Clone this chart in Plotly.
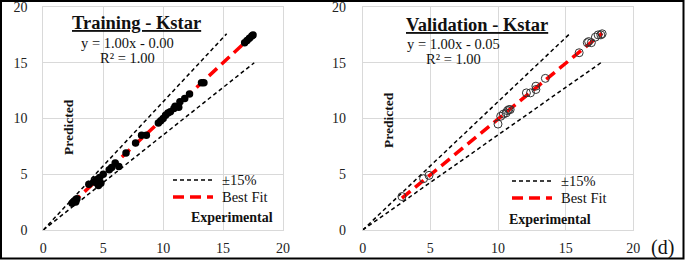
import plotly.graph_objects as go

# ---------------- data ----------------
train_exp = [2.4, 2.5, 2.6, 2.8, 2.7, 3.8, 4.2, 4.4, 4.5, 4.6, 4.8, 4.7, 5.0, 5.5, 5.7, 6.0, 6.3, 6.9,
             7.7, 8.2, 8.6, 9.6, 9.8, 10.0, 10.2, 10.4, 10.6, 10.9, 11.0, 11.3, 11.4, 11.8, 12.2, 13.2,
             13.4, 16.8, 17.0, 17.2, 17.4, 17.5]
train_pred = [2.4, 2.5, 2.6, 2.8, 2.5, 4.1, 4.3, 4.5, 4.2, 4.0, 4.2, 4.7, 5.0, 5.4, 5.6, 6.0, 5.7, 6.9,
              7.8, 8.5, 8.5, 9.6, 9.8, 10.0, 10.3, 10.5, 10.6, 10.9, 11.1, 11.0, 11.5, 11.8, 12.2, 13.2,
              13.2, 16.8, 17.0, 17.2, 17.4, 17.5]

valid_exp = [2.9, 4.5, 4.9, 10.0, 10.2, 10.4, 10.6, 10.7, 10.8, 10.9, 12.1, 12.4, 12.8, 12.8, 13.5,
             16.0, 16.6, 16.7, 16.9, 17.2, 17.4, 17.6, 17.7]
valid_pred = [3.0, 4.6, 4.9, 9.5, 10.2, 10.4, 10.5, 10.7, 10.8, 10.8, 12.3, 12.3, 12.6, 12.9, 13.6,
              15.9, 16.8, 16.9, 16.8, 17.3, 17.5, 17.5, 17.6]

train_fit = (1.00, -0.00)
valid_fit = (1.00, -0.05)

band_upper_x = [0, 15.3]
band_upper_y = [0, 17.6]
band_lower_x = [0, 17.6]
band_lower_y = [0, 15.0]

ticks = [0, 5, 10, 15, 20]
legend_labels = ["±15%", "Best Fit"]

# ---------------- figure ----------------
W, H = 685, 261
FONT = "Liberation Serif"
BAND_DASH = "4px,3px"
FIT_DASH = "11px,6px"

fig = go.Figure()


def px_x(p):
    return p / W


def px_y(p):
    return 1 - p / H


panels = [
    dict(xa="x", ya="y", exp=train_exp, pred=train_pred, fit=train_fit, filled=True),
    dict(xa="x2", ya="y2", exp=valid_exp, pred=valid_pred, fit=valid_fit, filled=False),
]

for p in panels:
    bx = [band_upper_x[0], band_upper_x[1], None, band_lower_x[0], band_lower_x[1]]
    by = [band_upper_y[0], band_upper_y[1], None, band_lower_y[0], band_lower_y[1]]
    fig.add_trace(go.Scatter(x=bx, y=by, mode="lines", name=legend_labels[0], xaxis=p["xa"], yaxis=p["ya"],
                             line=dict(color="black", width=1.5, dash=BAND_DASH), showlegend=False,
                             connectgaps=False))
    m, c = p["fit"]
    x0, x1 = min(p["exp"]), max(p["exp"])
    fig.add_trace(go.Scatter(x=[x0, x1], y=[m * x0 + c, m * x1 + c], mode="lines", name=legend_labels[1],
                             xaxis=p["xa"], yaxis=p["ya"], showlegend=False,
                             line=dict(color="#ff0000", width=3.5, dash=FIT_DASH)))
    if p["filled"]:
        marker = dict(symbol="circle", size=7.5, color="black")
    else:
        marker = dict(symbol="circle-open", size=8, color="#333", line=dict(width=1))
    fig.add_trace(go.Scatter(x=p["exp"], y=p["pred"], mode="markers", marker=marker, showlegend=False,
                             xaxis=p["xa"], yaxis=p["ya"]))

axis_common = dict(range=[-0.001, 20.001], tickvals=ticks, showgrid=True, gridcolor="#d9d9d9", gridwidth=1,
                   showline=True, linecolor="#d9d9d9", linewidth=1, mirror=True, zeroline=False,
                   ticks="", tickfont=dict(family=FONT, size=14, color="#222"), fixedrange=True,
                   automargin=False, ticklabeloverflow="allow")

fig.update_layout(
    width=W, height=H, margin=dict(l=0, r=0, t=0, b=0, autoexpand=False),
    paper_bgcolor="white", plot_bgcolor="white", showlegend=False,
    xaxis=dict(domain=[px_x(43.3), px_x(283)], anchor="y", ticklabelstandoff=5, **axis_common),
    yaxis=dict(domain=[px_y(230), px_y(7)], anchor="x", ticklabelstandoff=12, **axis_common),
    xaxis2=dict(domain=[px_x(362.7), px_x(633.3)], anchor="y2", ticklabelstandoff=5, **axis_common),
    yaxis2=dict(domain=[px_y(230), px_y(7)], anchor="x2", ticklabelstandoff=13, **axis_common),
)

ann = []


def text(x, y, s, size, angle=0, xanchor="center"):
    ann.append(dict(x=px_x(x), y=px_y(y), xref="paper", yref="paper", text=s, showarrow=False,
                    font=dict(family=FONT, size=size, color="#111"), textangle=angle,
                    xanchor=xanchor, yanchor="middle"))


text(136, 23, "<b><u>Training - Kstar</u></b>", 18.5)
text(128, 43, "y = 1.00x - 0.00", 14.5)
text(128, 58, "R² = 1.00", 14.5)
text(68, 127, "<b>Predicted</b>", 13.5, angle=-90)
text(232, 217, "<b>Experimental</b>", 14)

text(477, 25, "<b><u>Validation - Kstar</u></b>", 18.5)
text(453, 44, "y = 1.00x - 0.05", 14.5)
text(453, 59, "R² = 1.00", 14.5)
text(388, 120, "<b>Predicted</b>", 13.5, angle=-90)
text(550, 219, "<b>Experimental</b>", 14)

text(662, 247, "(d)", 20)

# manual legends (sample lines + labels)
for (lx0, lx1, ty, by_) in [(173, 213, 180, 197), (512, 552, 181, 198)]:
    fig.add_shape(type="line", xref="paper", yref="paper", x0=px_x(lx0), x1=px_x(lx1),
                  y0=px_y(ty), y1=px_y(ty), line=dict(color="black", width=1.5, dash=BAND_DASH))
    fig.add_shape(type="line", xref="paper", yref="paper", x0=px_x(lx0), x1=px_x(lx1),
                  y0=px_y(by_), y1=px_y(by_), line=dict(color="#ff0000", width=3.5, dash=FIT_DASH))
    text(lx1 + 7, ty, legend_labels[0], 14.5, xanchor="left")
    text(lx1 + 7, by_, legend_labels[1], 14.5, xanchor="left")

fig.update_layout(annotations=ann)

fig.add_shape(type="rect", xref="paper", yref="paper", x0=px_x(1), x1=px_x(683.5), y0=px_y(258.5),
              y1=px_y(1), line=dict(color="black", width=2), fillcolor="rgba(0,0,0,0)", layer="above")

fig.write_html("out.html", config={"displayModeBar": False},
               post_script="document.body.style.margin='0';document.body.style.padding='0';"
                           "document.body.style.overflow='hidden';")
